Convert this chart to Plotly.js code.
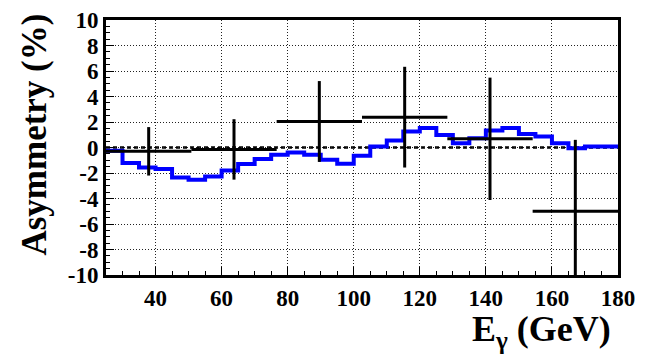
<!DOCTYPE html>
<html>
<head>
<meta charset="utf-8">
<script src="https://cdn.plot.ly/plotly-3.0.1.min.js"></script>
<style>html,body{margin:0;padding:0;background:#fff;}#chart{width:652px;height:356px;}</style>
</head>
<body>
<div id="chart"></div>
<script>
// Simulated asymmetry (blue histogram), 5 GeV bins
const mcEdges = [25,30,35,40,45,50,55,60,65,70,75,80,85,90,95,100,105,110,115,120,125,130,135,140,145,150,155,160,165,170,175,180];
const mcValues = [-0.25,-1.22,-1.56,-1.69,-2.35,-2.53,-2.27,-1.80,-1.30,-0.91,-0.57,-0.39,-0.57,-0.96,-1.28,-0.65,
                  0.08,0.55,1.25,1.52,0.99,0.34,0.73,1.33,1.52,1.05,0.86,0.34,-0.05,0.08,0.08];

// Measured asymmetry (black points)
const dataE = [37.92, 63.75, 89.58, 115.42, 141.25, 167.08];
const dataAsym = [-0.30, -0.15, 2.04, 2.38, 0.68, -5.00];
const dataErrY = [1.90, 2.37, 3.17, 3.95, 4.80, 5.60];
const dataErrX = [12.92, 12.92, 12.92, 12.92, 12.92, 12.92];

const xTicks = [40, 60, 80, 100, 120, 140, 160, 180];
const yTicks = [-10,-8,-6,-4,-2,0,2,4,6,8,10];
const xTitle = 'E<sub>γ</sub> (GeV)';
const yTitle = 'Asymmetry (%)';

const serif = "'Liberation Serif', 'DejaVu Serif', serif";

// step line: repeat the final value so the last bin is closed at the upper edge
const stepY = mcValues.concat([mcValues[mcValues.length - 1]]);

const traces = [
  {
    x: mcEdges, y: stepY, type: 'scatter', mode: 'lines',
    line: {shape: 'hv', color: '#0000ff', width: 4},
    hoverinfo: 'skip', showlegend: false
  },
  {
    x: dataE, y: dataAsym, type: 'scatter', mode: 'markers',
    marker: {size: 2, color: '#000'},
    error_y: {type: 'data', array: dataErrY, visible: true, color: '#000', thickness: 3, width: 0},
    error_x: {type: 'data', array: dataErrX, visible: true, color: '#000', thickness: 3, width: 0},
    showlegend: false
  }
];

const layout = {
  width: 652, height: 356,
  margin: {l: 106, r: 34, t: 20, b: 81},
  paper_bgcolor: '#fff', plot_bgcolor: '#fff',
  font: {family: serif, color: '#000', size: 23, weight: 'bold'},
  showlegend: false,
  xaxis: {
    range: [25, 180], tickvals: xTicks, ticktext: xTicks.map(String),
    ticks: 'inside', ticklen: 8, tickwidth: 1, tickcolor: '#000',
    minor: {dtick: 5, tick0: 0, ticks: 'inside', ticklen: 4, tickcolor: '#000', showgrid: false},
    showgrid: true, gridcolor: '#222', griddash: '1px,2px', gridwidth: 1,
    showline: true, linecolor: '#000', linewidth: 3, mirror: true,
    zeroline: false,
    tickfont: {family: serif, size: 23, weight: 'bold', color: '#000'}
  },
  yaxis: {
    range: [-10, 10], tickvals: yTicks, ticktext: yTicks.map(String),
    ticks: 'inside', ticklen: 8, tickwidth: 1, tickcolor: '#000',
    minor: {dtick: 0.5, tick0: 0, ticks: 'inside', ticklen: 4, tickcolor: '#000', showgrid: false},
    showgrid: true, gridcolor: '#222', griddash: '1px,2px', gridwidth: 1,
    showline: true, linecolor: '#000', linewidth: 3, mirror: true,
    zeroline: false,
    tickfont: {family: serif, size: 23, weight: 'bold', color: '#000'},
    automargin: false
  },
  shapes: [
    {type: 'line', xref: 'paper', x0: 0, x1: 1, yref: 'y', y0: 0, y1: 0,
     line: {color: '#000', width: 2.5, dash: '4px,3px'}, layer: 'below'}
  ],
  annotations: [
    {text: xTitle, xref: 'paper', yref: 'paper', x: 0.99, y: -0.222,
     xanchor: 'right', yanchor: 'middle', showarrow: false,
     font: {family: serif, size: 36, weight: 'bold', color: '#000'}},
    {text: yTitle, xref: 'paper', yref: 'paper', x: -0.139, y: 0.55, textangle: -90,
     xanchor: 'center', yanchor: 'middle', showarrow: false,
     font: {family: serif, size: 35, weight: 'bold', color: '#000'}}
  ]
};

Plotly.newPlot('chart', traces, layout, {displayModeBar: false, staticPlot: true});
</script>
</body>
</html>
